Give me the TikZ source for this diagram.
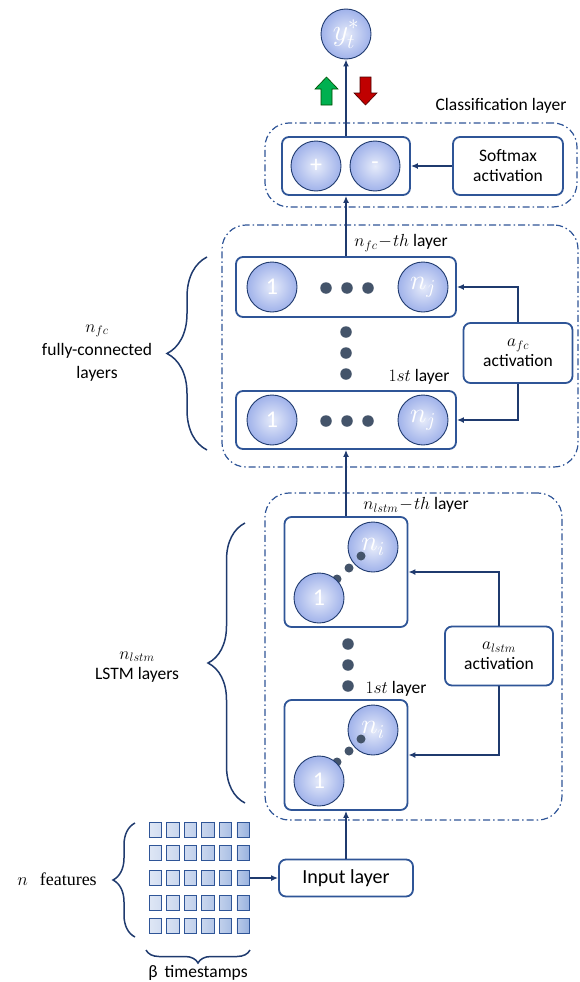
\RequirePackage{fix-cm}
\documentclass[tikz,border=0pt]{standalone}
\usepackage{fontspec}
\setmainfont{Carlito}
\newfontfamily\seriffont{Liberation Serif}
\usetikzlibrary{arrows.meta,decorations.pathreplacing,shadings}
\definecolor{navy}{HTML}{1F3A6E}
\definecolor{boxb}{HTML}{2F5597}
\definecolor{dotc}{HTML}{44546A}
\definecolor{circin}{HTML}{E6EBFA}
\definecolor{circout}{HTML}{A0B2EA}
\definecolor{cellb}{HTML}{4472C4}
\definecolor{upg}{HTML}{00B050}
\definecolor{dnr}{HTML}{C00000}
\begin{document}
\begin{tikzpicture}[x=1pt,y=-1pt,
  every node/.style={font=\fontsize{17.5}{20}\selectfont},
  lbox/.style={draw=boxb, line width=1.8pt, rounded corners=7pt, fill=white, inner sep=0pt},
  neuron/.style={circle, draw=navy, line width=0.9pt, minimum size=50pt, inner sep=0pt, inner color=circin, outer color=circout, text=white, font=\fontsize{24}{24}\selectfont},
  mneuron/.style={neuron, font=\fontsize{28}{28}\selectfont},
  grp/.style={draw=boxb, line width=1.2pt, dash pattern=on 7pt off 3pt on 1.5pt off 3pt, rounded corners=24pt, inner sep=0pt},
  conn/.style={draw=navy, line width=1.8pt, -{Latex[length=7pt,width=6pt]}},
  bdot/.style={circle, fill=dotc, minimum size=11.5pt, inner sep=0pt},
  sdot/.style={circle, fill=dotc, minimum size=9pt, inner sep=0pt},
  brc/.style={draw=navy, line width=1.5pt, decorate, decoration={brace, amplitude=#1}},
  cell/.style={draw=boxb, line width=0.9pt, minimum width=12.5pt, minimum height=15pt, inner sep=0pt},
]
\useasboundingbox (0,0) rectangle (579,982);

% ---------- output ----------
\node[neuron, font=\fontsize{30}{30}\selectfont] (out) at (346,34) {$y_t^{*}$};
\draw[draw=black!70!green, fill=upg, line width=0.6pt] (321,105) -- (332,105) -- (332,89) -- (338,89) -- (326.5,77) -- (315,89) -- (321,89) -- cycle;
\draw[draw=black!70!red, fill=dnr, line width=0.6pt] (360,77) -- (371,77) -- (371,93) -- (377,93) -- (365.5,105) -- (354,93) -- (360,93) -- cycle;

% ---------- classification layer ----------
\node[grp, minimum width=312pt, minimum height=84pt] (clsg) at (421,165) {};
\node (clslab) at (501,106) {Classification layer};
\node[lbox, minimum width=128pt, minimum height=58pt] (pm) at (346,166) {};
\node[neuron] (plus) at (316,166) {+};
\node[neuron] (minus) at (375,166) {-};
\node[lbox, minimum width=110pt, minimum height=58pt, align=center] (soft) at (508,166) {Softmax\\activation};
\draw[conn] (soft.west) -- (pm.east);
\draw[conn] (pm.north) -- (out.south);

% ---------- fully connected ----------
\node[grp, minimum width=356pt, minimum height=242pt] (fcg) at (400,346) {};
\node[lbox, minimum width=220pt, minimum height=60pt] (fctop) at (346,287) {};
\node[neuron] (fcta) at (272,287) {1};
\node[mneuron] (fctb) at (423,287) {$n_j$};
\node[bdot] (fctd1) at (326,288) {};
\node[bdot] (fctd2) at (347,288) {};
\node[bdot] (fctd3) at (368,288) {};
\node (fctlab) at (401,243) {$n_{fc}\!-\!th$ layer};
\node[bdot] (fcv1) at (346,332) {};
\node[bdot] (fcv2) at (346,353) {};
\node[bdot] (fcv3) at (346,374) {};
\node (fcblab) at (419,377) {$1st$ layer};
\node[lbox, minimum width=220pt, minimum height=58pt] (fcbot) at (346,420) {};
\node[neuron] (fcba) at (272,420) {1};
\node[mneuron] (fcbb) at (423,420) {$n_j$};
\node[bdot] (fcbd1) at (326,421) {};
\node[bdot] (fcbd2) at (347,421) {};
\node[bdot] (fcbd3) at (368,421) {};
\node[lbox, minimum width=109pt, minimum height=60pt, align=center] (afc) at (518,353) {$a_{fc}$\\activation};
\draw[conn] (afc.north) |- (fctop.east);
\draw[conn] (afc.south) |- (fcbot.east);
\draw[conn] (fctop.north) -- (pm.south);
\draw[brc=40pt] (207,450) -- (207,257);
\node[align=center, font=\fontsize{17.5}{23}\selectfont] (fclab) at (97,353) {$n_{fc}$\\fully-connected\\layers};

% ---------- LSTM ----------
\node[grp, minimum width=297pt, minimum height=327pt] (lg) at (413.5,656.5) {};
\node[lbox, minimum width=123pt, minimum height=110pt] (ltop) at (346,572) {};
\node[mneuron] (ltb) at (373,547) {$n_i$};
\node[sdot] (ltd1) at (361,556) {};
\node[sdot] (ltd2) at (349,568) {};
\node[sdot] (ltd3) at (337,579) {};
\node[neuron] (lta) at (319,598) {1};
\node (ltlab) at (416,505) {$n_{lstm}\!-\!th$ layer};
\node[bdot] (lv1) at (348,644) {};
\node[bdot] (lv2) at (348,665) {};
\node[bdot] (lv3) at (348,686) {};
\node (lblab) at (396,689) {$1st$ layer};
\node[lbox, minimum width=123pt, minimum height=110pt] (lbot) at (346,755) {};
\node[mneuron] (lbb) at (373,730) {$n_i$};
\node[sdot] (lbd1) at (361,739) {};
\node[sdot] (lbd2) at (349,751) {};
\node[sdot] (lbd3) at (337,762) {};
\node[neuron] (lba) at (319,781) {1};
\node[lbox, minimum width=108pt, minimum height=59pt, align=center] (alstm) at (499,656) {$a_{lstm}$\\activation};
\draw[conn] (alstm.north) |- (ltop.east);
\draw[conn] (alstm.south) |- (lbot.east);
\draw[conn] (ltop.north) -- (fcbot.south -| ltop.north);
\draw[brc=37pt] (245,803) -- (245,523);
\node[align=center, font=\fontsize{17.5}{20}\selectfont] (llab) at (137,667) {$n_{lstm}$\\LSTM layers};

% ---------- input ----------
\node[lbox, minimum width=134pt, minimum height=37pt, font=\fontsize{20}{22}\selectfont] (inb) at (346,878) {Input layer};
\draw[conn] (inb.north) -- (lbot.south -| inb.north);
\foreach \c/\x/\lc/\rc in {1/155.3/cellb!17/cellb!24, 2/173/cellb!21/cellb!29, 3/190.5/cellb!25/cellb!34, 4/208/cellb!29/cellb!40, 5/225.5/cellb!33/cellb!46, 6/243.2/cellb!38/cellb!55}{
  \foreach \r/\y in {1/829.5, 2/852.5, 3/878, 4/902.5, 5/925.5}{
    \node[cell, left color=\lc, right color=\rc] (c\r\c) at (\x,\y) {};
  }
}
\draw[conn] (c36.east) -- (inb.west |- c36.east);
\draw[brc=22pt] (135,937) -- (135,823);
\node[font=\seriffont\fontsize{18}{20}\selectfont] (nfeat) at (57,879) {$n$\hspace{12pt}features};
\draw[brc=13pt] (250,950) -- (146,950);
\node (tslab) at (198,973) {β\hspace{7pt}timestamps};
\end{tikzpicture}
\end{document}
